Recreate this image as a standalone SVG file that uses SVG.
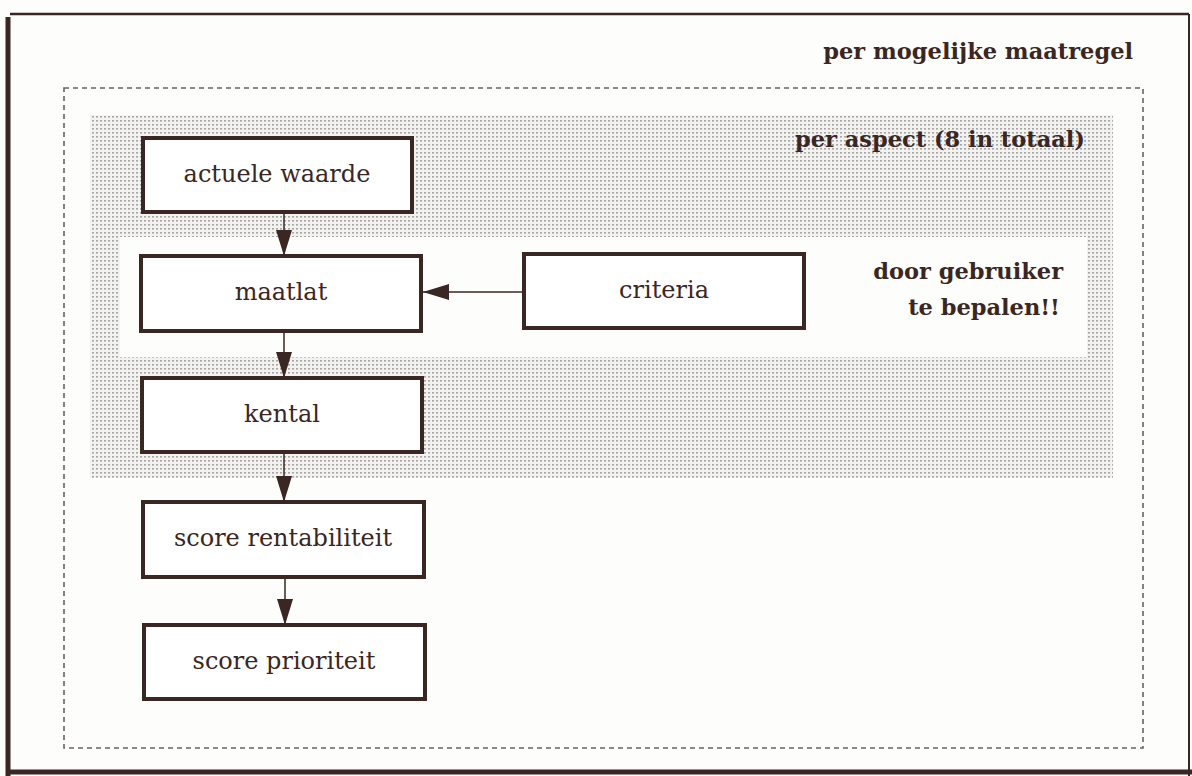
<svg xmlns="http://www.w3.org/2000/svg" width="1192" height="776" viewBox="0 0 1192 776">
  <defs>
    <pattern id="stipple" width="4" height="4" patternUnits="userSpaceOnUse">
      <rect width="4" height="4" fill="#f2f2f0"/>
      <rect x="0" y="0" width="2" height="1.6" fill="#a9a6a4"/>
    </pattern>
    <marker id="head" viewBox="0 0 26 16" refX="26" refY="8" markerWidth="26" markerHeight="16" markerUnits="userSpaceOnUse" orient="auto">
      <path d="M0,0 L26,8 L0,16 Z" fill="#3a2622"/>
    </marker>
  </defs>
  <style>
    .box rect { fill: #ffffff; stroke: #3a2622; stroke-width: 4; }
    .box text { font-family: "DejaVu Serif", "Liberation Serif", serif; font-size: 24px; fill: #3a2622; text-anchor: middle; }
    .label { font-family: "DejaVu Serif", "Liberation Serif", serif; font-size: 22.5px; font-weight: bold; fill: #3a2622; text-anchor: end; }
    .edge { stroke: #3a2622; stroke-width: 1.5; fill: none; marker-end: url(#head); }
  </style>

  <!-- paper -->
  <rect width="1192" height="776" fill="#fdfdfb"/>

  <!-- outer frame -->
  <g id="frame" stroke="#3a2622" fill="none">
    <line x1="10" y1="14" x2="1189" y2="14" stroke-width="2.5"/>
    <line x1="1189" y1="14" x2="1189" y2="776" stroke-width="2"/>
    <line x1="8" y1="17" x2="8" y2="776" stroke-width="5"/>
    <line x1="8" y1="772" x2="1192" y2="772" stroke-width="5"/>
  </g>

  <!-- scope: per mogelijke maatregel -->
  <g id="scope-maatregel">
    <rect x="64" y="88" width="1079" height="660" fill="none" stroke="#6a6260" stroke-width="1.6" stroke-dasharray="5,4"/>
    <text class="label" x="1133" y="59">per mogelijke maatregel</text>
  </g>

  <!-- scope: per aspect -->
  <g id="scope-aspect">
    <rect x="90" y="115" width="1023" height="363" fill="url(#stipple)"/>
    <rect x="120" y="237" width="967" height="120" fill="#fdfdfb"/>
    <text class="label" x="1085" y="147">per aspect (8 in totaal)</text>
  </g>

  <g id="note-gebruiker">
    <text class="label" x="1063" y="279">door gebruiker</text>
    <text class="label" x="1060" y="315">te bepalen!!</text>
  </g>

  <!-- connectors -->
  <g id="connectors">
    <line class="edge" x1="284" y1="212" x2="284" y2="256"/>
    <line class="edge" x1="284" y1="331" x2="284" y2="378"/>
    <line class="edge" x1="284" y1="452" x2="284" y2="502"/>
    <line class="edge" x1="285" y1="577" x2="285" y2="625"/>
    <line class="edge" x1="524" y1="292" x2="423" y2="292"/>
  </g>

  <!-- nodes -->
  <g id="actuele-waarde" class="box">
    <rect x="143" y="138" width="269" height="74"/>
    <text x="277" y="182">actuele waarde</text>
  </g>
  <g id="maatlat" class="box">
    <rect x="141" y="256" width="280" height="75"/>
    <text x="281" y="300">maatlat</text>
  </g>
  <g id="criteria" class="box">
    <rect x="524" y="254" width="280" height="74"/>
    <text x="664" y="298">criteria</text>
  </g>
  <g id="kental" class="box">
    <rect x="142" y="378" width="280" height="74"/>
    <text x="282" y="422">kental</text>
  </g>
  <g id="score-rentabiliteit" class="box">
    <rect x="143" y="502" width="281" height="75"/>
    <text x="283" y="546">score rentabiliteit</text>
  </g>
  <g id="score-prioriteit" class="box">
    <rect x="144" y="625" width="281" height="74"/>
    <text x="284" y="669">score prioriteit</text>
  </g>
</svg>
